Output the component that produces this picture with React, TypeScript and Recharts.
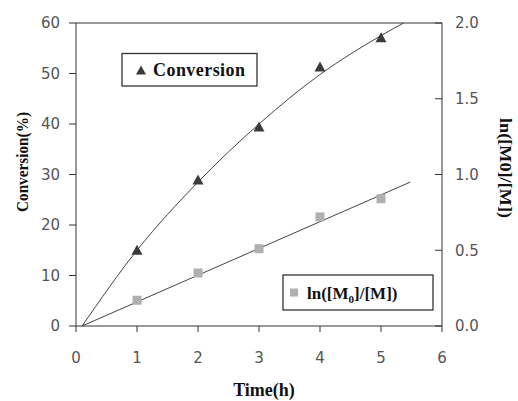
import React from 'react';
import { ComposedChart, Line, Scatter, XAxis, YAxis, ReferenceLine } from 'recharts';

const timeH = [1, 2, 3, 4, 5];
const conversion = [15.0, 28.9, 39.4, 51.3, 57.1];
const lnRatio = [0.17, 0.35, 0.51, 0.72, 0.84];

const convFitX = [0.1, 1, 2, 3, 4, 5, 5.37];
const convFitY = [0, 15, 28.5, 40, 49.8, 57.5, 60];
const lnFitX = [0.1, 5.48];
const lnFitY = [0, 0.95];

const xTicks = [0, 1, 2, 3, 4, 5, 6];
const leftTicks = [0, 10, 20, 30, 40, 50, 60];
const rightTicks = [0, 0.5, 1.0, 1.5, 2.0];

const convData = timeH.map((x, i) => ({ x, y: conversion[i] }));
const lnData = timeH.map((x, i) => ({ x, y: lnRatio[i] }));
const convFit = convFitX.map((x, i) => ({ x, y: convFitY[i] }));
const lnFit = lnFitX.map((x, i) => ({ x, y: lnFitY[i] }));

const AXIS = '#333';
const TICKTXT = '#555';
const tickFont = { fontFamily: 'DejaVu Sans', fontSize: 15, fill: TICKTXT };

const Triangle = (p: any) => {
  const { cx, cy } = p;
  return <polygon points={`${cx - 5.5},${cy + 4.5} ${cx + 5.5},${cy + 4.5} ${cx},${cy - 5.5}`} fill="#3a3a3a" />;
};
const Square = (p: any) => {
  const { cx, cy } = p;
  return <rect x={cx - 4.5} y={cy - 4.5} width={9} height={9} fill="#b0b0b0" />;
};

const RightTick = (p: any) => {
  const { x, y, payload } = p;
  return (
    <g>
      <line x1={x - 13 - 7} x2={x - 13} y1={y} y2={y} stroke={AXIS} strokeWidth={1} />
      <text x={x} y={y} dy="0.355em" textAnchor="start" {...tickFont}>
        {Number(payload.value).toFixed(1)}
      </text>
    </g>
  );
};

const serifBold = { fontFamily: 'Liberation Serif', fontWeight: 700, fill: '#111' } as const;

export default function App() {
  return (
    <div style={{ position: 'absolute', left: 0, top: 0, width: 518, height: 401, background: '#fff' }}>
      <ComposedChart width={518} height={401} margin={{ top: 23, right: 0, bottom: 0, left: 0 }}>
        <XAxis
          type="number"
          dataKey="x"
          domain={[0, 6]}
          ticks={xTicks}
          height={75}
          tickSize={6}
          tickMargin={20}
          stroke={AXIS}
          tick={tickFont}
          allowDataOverflow
        />
        <YAxis
          yAxisId="left"
          type="number"
          domain={[0, 60]}
          ticks={leftTicks}
          width={76}
          tickSize={7}
          tickMargin={9}
          stroke={AXIS}
          tick={tickFont}
        />
        <YAxis
          yAxisId="right"
          orientation="right"
          type="number"
          domain={[0, 2]}
          ticks={rightTicks}
          width={76}
          tickSize={0}
          tickMargin={13}
          tickLine={false}
          stroke={AXIS}
          tick={<RightTick />}
        />
        <ReferenceLine yAxisId="left" y={60} stroke={AXIS} strokeWidth={1} />
        <Line
          yAxisId="left"
          data={convFit}
          dataKey="y"
          type="monotone"
          stroke="#444"
          strokeWidth={1}
          dot={false}
          activeDot={false}
          isAnimationActive={false}
        />
        <Line
          yAxisId="right"
          data={lnFit}
          dataKey="y"
          type="linear"
          stroke="#444"
          strokeWidth={1}
          dot={false}
          activeDot={false}
          isAnimationActive={false}
        />
        <Scatter yAxisId="left" data={convData} dataKey="y" shape={<Triangle />} isAnimationActive={false} />
        <Scatter yAxisId="right" data={lnData} dataKey="y" shape={<Square />} isAnimationActive={false} />
      </ComposedChart>
      <svg width={518} height={401} style={{ position: 'absolute', left: 0, top: 0, pointerEvents: 'none' }}>
        <text
          transform="translate(28,162) rotate(-90)"
          textAnchor="middle"
          fontSize={17}
          textLength={100}
          lengthAdjust="spacingAndGlyphs"
          {...serifBold}
        >
          Conversion(%)
        </text>
        <text
          transform="translate(500,168) rotate(90)"
          textAnchor="middle"
          fontSize={17}
          textLength={100}
          lengthAdjust="spacingAndGlyphs"
          {...serifBold}
        >
          ln([M0]/[M])
        </text>
        <text x={264} y={396} textAnchor="middle" fontSize={18} {...serifBold}>
          Time(h)
        </text>
        <rect x={122} y={53.5} width={135} height={32.5} fill="#fff" stroke="#333" strokeWidth={1.3} />
        <polygon points="136,74.5 146,74.5 141,65.5" fill="#3a3a3a" />
        <text x={153} y={76} fontSize={18} textLength={92} lengthAdjust="spacing" {...serifBold}>
          Conversion
        </text>
        <rect x={283} y={275} width={150} height={35} fill="#fff" stroke="#333" strokeWidth={1.3} />
        <rect x={290} y={288.5} width={8} height={8} fill="#b0b0b0" />
        <text x={307} y={298.5} fontSize={17} {...serifBold}>
          ln([M<tspan fontSize={11} dy={4}>0</tspan>
          <tspan dy={-4}>]/[M])</tspan>
        </text>
      </svg>
    </div>
  );
}
